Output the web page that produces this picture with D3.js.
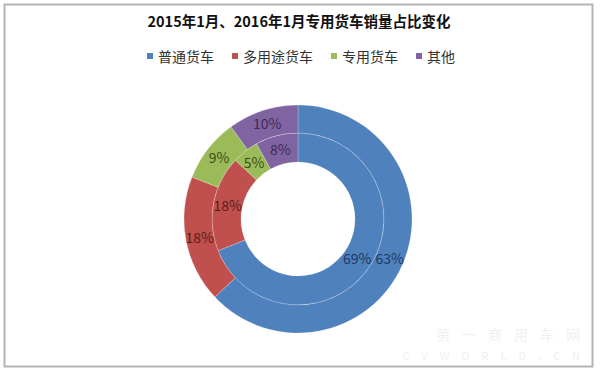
<!DOCTYPE html>
<html>
<head>
<meta charset="utf-8">
<script src="https://cdn.jsdelivr.net/npm/d3@7"></script>
<style>
  body { margin: 0; background: #fff; }
  svg { display: block; font-family: "Noto Sans CJK SC", "Noto Sans", sans-serif; }
</style>
</head>
<body>
<svg width="600" height="372"></svg>
<script>
// data: categories and shares for the two years
var categories = ["普通货车", "多用途货车", "专用货车", "其他"];
var values2015 = [69, 18, 5, 8];   // inner ring
var values2016 = [63, 18, 9, 10];  // outer ring

var colors = ["#4f81bd", "#c0504d", "#9bbb59", "#8064a2"];
var labelColors = ["#1f3763", "#5c1a18", "#3b4d1c", "#3b2c52"];

var svg = d3.select("svg"),
    cx = 298, cy = 219,
    rHole = 57, rMid = 86, rOuter = 114;

// frame
svg.append("rect")
    .attr("x", 4.5).attr("y", 4.5)
    .attr("width", 588).attr("height", 362)
    .attr("fill", "none")
    .attr("stroke", "#b4b4b4")
    .attr("stroke-width", 2);

// title
svg.append("text")
    .attr("x", 299)
    .attr("y", 27)
    .attr("text-anchor", "middle")
    .style("font-size", "14.5px")
    .style("font-weight", "bold")
    .attr("fill", "#111")
    .text("2015年1月、2016年1月专用货车销量占比变化");

// legend
var legend = svg.append("g");
var lx = 0;
categories.forEach(function(c, i) {
    var item = legend.append("g").attr("transform", "translate(" + lx + ",0)");
    item.append("rect")
        .attr("x", 0).attr("y", -4)
        .attr("width", 6).attr("height", 6)
        .attr("fill", colors[i]);
    var t = item.append("text")
        .attr("x", 11)
        .attr("y", 5)
        .style("font-size", "14px")
        .attr("fill", "#333")
        .text(c);
    lx += 11 + t.node().getComputedTextLength() + 18;
});
var lw = lx - 18;
legend.attr("transform", "translate(" + (301 - lw / 2) + ",57)");

// rings
var pie = d3.pie().sort(null).startAngle(0).endAngle(2 * Math.PI);
var g = svg.append("g").attr("transform", "translate(" + cx + "," + cy + ")");

function ring(values, r0, r1, cls) {
    var arc = d3.arc().innerRadius(r0).outerRadius(r1);
    var arcs = pie(values);
    g.selectAll("path." + cls)
      .data(arcs)
      .join("path")
      .attr("class", cls)
      .attr("d", arc)
      .attr("fill", (d, i) => colors[i])
      .attr("stroke", "rgba(255,255,255,0.22)")
      .attr("stroke-width", 1);

    g.selectAll("text." + cls)
      .data(arcs)
      .join("text")
      .attr("class", cls)
      .attr("transform", d => "translate(" + arc.centroid(d) + ")")
      .attr("text-anchor", "middle")
      .attr("dy", "0.36em")
      .style("font-size", "14px")
      .attr("fill", (d, i) => labelColors[i])
      .text(d => d.data + "%");
}

ring(values2015, rHole, rMid, "inner");
ring(values2016, rMid, rOuter, "outer");

// watermark
var wm = svg.append("g").attr("fill", "#f0f0f0");
wm.append("text")
    .attr("x", 592).attr("y", 340)
    .attr("text-anchor", "end")
    .style("font-size", "14px")
    .style("letter-spacing", "12px")
    .text("第一商用车网");
wm.append("text")
    .attr("x", 592).attr("y", 360)
    .attr("text-anchor", "end")
    .style("font-size", "11px")
    .style("letter-spacing", "12px")
    .text("CVWORLD.CN");
</script>
</body>
</html>
